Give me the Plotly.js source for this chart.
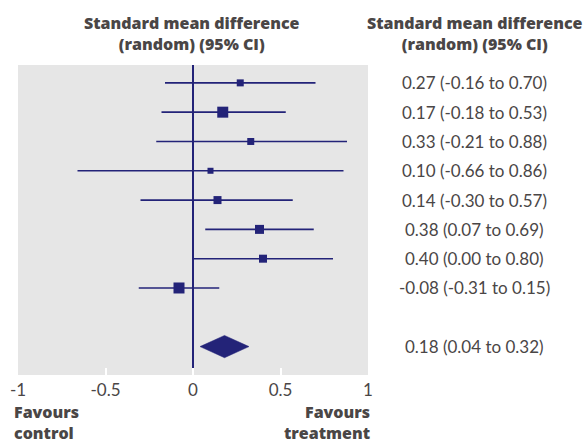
<!DOCTYPE html>
<html>
<head>
<meta charset="utf-8">
<script src="https://cdn.plot.ly/plotly-3.0.1.min.js"></script>
<style>html,body{margin:0;padding:0;background:#fff}#chart{width:583px;height:446px}</style>
</head>
<body>
<div id="chart"></div>
<script>
// Study-level data
const rows = [1, 2, 3, 4, 5, 6, 7, 8];
const estimates = [0.27, 0.17, 0.33, 0.10, 0.14, 0.38, 0.40, -0.08];
const lower = [-0.16, -0.18, -0.21, -0.66, -0.30, 0.07, 0.00, -0.31];
const upper = [0.70, 0.53, 0.88, 0.86, 0.57, 0.69, 0.80, 0.15];
const weights = [7, 11, 7, 6, 8, 9, 8, 11];
const labels = ["0.27 (-0.16 to 0.70)", "0.17 (-0.18 to 0.53)", "0.33 (-0.21 to 0.88)", "0.10 (-0.66 to 0.86)",
                "0.14 (-0.30 to 0.57)", "0.38 (0.07 to 0.69)", "0.40 (0.00 to 0.80)", "-0.08 (-0.31 to 0.15)"];
// Pooled estimate
const pooledRow = 10;
const pooledEst = 0.18;
const pooledLo = 0.04;
const pooledHi = 0.32;
const pooledLabel = "0.18 (0.04 to 0.32)";
// Axis ticks
const tickVals = [-1, -0.5, 0, 0.5, 1];
const tickText = ["-1", "-0.5", "0", "0.5", "1"];

const NAVY = '#232378';
const TXT = '#4a4646';
const BOLD = {family: 'Open Sans', size: 16, color: TXT, weight: 800};
const REG = {family: 'Lato', size: 17, color: TXT};

const traces = [
  {
    type: 'scatter', mode: 'markers',
    x: estimates, y: rows,
    marker: {symbol: 'square', size: weights, color: NAVY, opacity: 1, line: {width: 0}},
    error_x: {type: 'data', symmetric: false,
      array: estimates.map((e, i) => upper[i] - e),
      arrayminus: estimates.map((e, i) => e - lower[i]),
      color: NAVY, thickness: 1.6, width: 0},
    hoverinfo: 'skip'
  },
  {
    type: 'scatter', mode: 'lines',
    x: [pooledLo, pooledEst, pooledHi, pooledEst, pooledLo],
    y: [pooledRow, pooledRow - 0.38, pooledRow, pooledRow + 0.38, pooledRow],
    fill: 'toself', fillcolor: NAVY, line: {color: NAVY, width: 0.5},
    hoverinfo: 'skip'
  }
];

const ann = [];
const valX = (475 - 18) / 350;
labels.forEach((t, i) => ann.push({xref: 'paper', yref: 'y', x: valX, y: rows[i], text: t, showarrow: false,
  xanchor: 'center', yanchor: 'middle', font: REG}));
ann.push({xref: 'paper', yref: 'y', x: valX, y: pooledRow, text: pooledLabel, showarrow: false,
  xanchor: 'center', yanchor: 'middle', font: REG});
const hdr = 'Standard mean difference<br>(random) (95% CI)';
ann.push({xref: 'paper', yref: 'paper', x: (192 - 18) / 350, y: (375 - 33.5) / 310, text: hdr, showarrow: false,
  xanchor: 'center', yanchor: 'middle', font: BOLD});
ann.push({xref: 'paper', yref: 'paper', x: valX, y: (375 - 33.5) / 310, text: hdr, showarrow: false,
  xanchor: 'center', yanchor: 'middle', font: BOLD});
ann.push({xref: 'paper', yref: 'paper', x: (12 - 18) / 350, y: (375 - 422) / 310, text: 'Favours<br>control', showarrow: false,
  xanchor: 'left', yanchor: 'middle', align: 'left', font: BOLD});
ann.push({xref: 'paper', yref: 'paper', x: (372 - 18) / 350, y: (375 - 422) / 310, text: 'Favours<br>treatment', showarrow: false,
  xanchor: 'right', yanchor: 'middle', align: 'right', font: BOLD});

const layout = {
  width: 583, height: 446,
  margin: {l: 18, r: 215, t: 65, b: 71, pad: 0},
  paper_bgcolor: '#ffffff', plot_bgcolor: '#e6e6e6',
  showlegend: false,
  xaxis: {range: [-1, 1], tickvals: tickVals, ticktext: tickText, ticks: 'inside', ticklen: 7, tickwidth: 2,
    tickcolor: '#ffffff', showgrid: false, zeroline: true, zerolinecolor: NAVY, zerolinewidth: 1.5,
    showline: false, fixedrange: true, ticklabelstandoff: 3,
    tickfont: {family: 'Lato', size: 17, color: TXT}},
  yaxis: {range: [10.97, 0.39], showticklabels: false, showgrid: false, zeroline: false, ticks: '', fixedrange: true},
  annotations: ann
};

Plotly.newPlot('chart', traces, layout, {displayModeBar: false, staticPlot: true});
</script>
</body>
</html>
